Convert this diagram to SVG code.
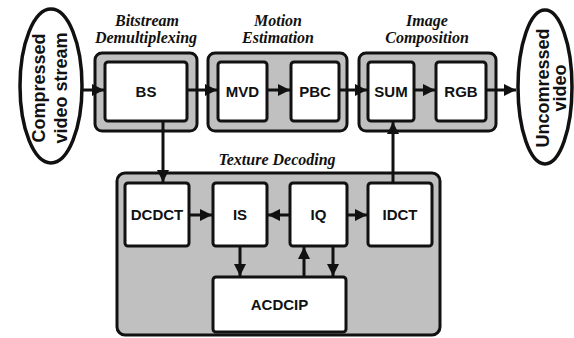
<svg xmlns="http://www.w3.org/2000/svg" width="574" height="338" viewBox="0 0 574 338">
<defs>
<style>
.cont{fill:#c0c0c0;stroke:#111;stroke-width:3}
.box{fill:#fff;stroke:#111;stroke-width:3}
.lbl{font-family:"Liberation Sans",Arial,sans-serif;font-weight:bold;font-size:15px;fill:#111;text-anchor:middle}
.ttl{font-family:"Liberation Serif","Times New Roman",serif;font-weight:bold;font-style:italic;font-size:16px;fill:#111;text-anchor:middle}
.ell{fill:#fff;stroke:#111;stroke-width:3.5}
.etx{font-family:"Liberation Sans",Arial,sans-serif;font-weight:bold;font-size:18px;fill:#111;text-anchor:middle}
.ln{stroke:#111;stroke-width:3;fill:none}
</style>
<marker id="ah" viewBox="0 0 10 10" refX="10" refY="5" markerWidth="4.3" markerHeight="4" markerUnits="strokeWidth" orient="auto">
<path d="M0,0 L10,5 L0,10 Z" fill="#111"/>
</marker>
</defs>
<rect width="574" height="338" fill="#fff"/>

<g id="src">
<ellipse class="ell" cx="51" cy="86" rx="31" ry="77"/>
<text class="etx" transform="translate(45,88) rotate(-90)">Compressed</text>
<text class="etx" transform="translate(67,88) rotate(-90)">video stream</text>
</g>
<g id="dst">
<ellipse class="ell" cx="545" cy="87" rx="27" ry="77"/>
<text class="etx" transform="translate(549,88) rotate(-90)">Uncomressed</text>
<text class="etx" transform="translate(566,88) rotate(-90)">video</text>
</g>

<g id="bitstream">
<text class="ttl" x="147" y="26">Bitstream</text>
<text class="ttl" x="146" y="43">Demultiplexing</text>
<rect class="cont" x="95" y="53" width="102" height="78" rx="7"/>
</g>
<g id="motion">
<text class="ttl" x="278" y="26">Motion</text>
<text class="ttl" x="278" y="43">Estimation</text>
<rect class="cont" x="208" y="53" width="139" height="78" rx="7"/>
</g>
<g id="image">
<text class="ttl" x="427" y="26">Image</text>
<text class="ttl" x="427" y="43">Composition</text>
<rect class="cont" x="359" y="53" width="137" height="78" rx="7"/>
</g>
<g id="texture">
<text class="ttl" x="277" y="165">Texture Decoding</text>
<rect class="cont" x="117" y="173" width="323" height="162" rx="8"/>
</g>

<g id="BS"><rect class="box" x="105" y="62" width="82" height="59" rx="3"/><text class="lbl" x="146" y="97">BS</text></g>
<g id="MVD"><rect class="box" x="218" y="62" width="49" height="59" rx="3"/><text class="lbl" x="242.5" y="97">MVD</text></g>
<g id="PBC"><rect class="box" x="291" y="62" width="48" height="59" rx="3"/><text class="lbl" x="315" y="97">PBC</text></g>
<g id="SUM"><rect class="box" x="368" y="62" width="46" height="59" rx="3"/><text class="lbl" x="391" y="97">SUM</text></g>
<g id="RGB"><rect class="box" x="436" y="62" width="50" height="59" rx="3"/><text class="lbl" x="461" y="97">RGB</text></g>

<g id="DCDCT"><rect class="box" x="125" y="183" width="64" height="63" rx="3"/><text class="lbl" x="157" y="220">DCDCT</text></g>
<g id="IS"><rect class="box" x="213" y="183" width="54" height="63" rx="3"/><text class="lbl" x="240" y="220">IS</text></g>
<g id="IQ"><rect class="box" x="290" y="183" width="57" height="63" rx="3"/><text class="lbl" x="318.5" y="220">IQ</text></g>
<g id="IDCT"><rect class="box" x="368" y="183" width="64" height="63" rx="3"/><text class="lbl" x="400" y="220">IDCT</text></g>
<g id="ACDCIP"><rect class="box" x="213" y="277" width="133" height="55" rx="3"/><text class="lbl" x="279.5" y="310">ACDCIP</text></g>

<g id="connectors">
<line class="ln" x1="83" y1="90" x2="104" y2="90" marker-end="url(#ah)"/>
<line class="ln" x1="187" y1="90" x2="217" y2="90" marker-end="url(#ah)"/>
<line class="ln" x1="267" y1="90" x2="290" y2="90" marker-end="url(#ah)"/>
<line class="ln" x1="339" y1="90" x2="367" y2="90" marker-end="url(#ah)"/>
<line class="ln" x1="414" y1="90" x2="435" y2="90" marker-end="url(#ah)"/>
<line class="ln" x1="486" y1="90" x2="516" y2="90" marker-end="url(#ah)"/>
<line class="ln" x1="163" y1="121" x2="163" y2="182" marker-end="url(#ah)"/>
<line class="ln" x1="393" y1="183" x2="393" y2="122" marker-end="url(#ah)"/>
<line class="ln" x1="189" y1="215" x2="212" y2="215" marker-end="url(#ah)"/>
<line class="ln" x1="290" y1="215" x2="268" y2="215" marker-end="url(#ah)"/>
<line class="ln" x1="347" y1="215" x2="367" y2="215" marker-end="url(#ah)"/>
<line class="ln" x1="240" y1="246" x2="240" y2="276" marker-end="url(#ah)"/>
<line class="ln" x1="304" y1="277" x2="304" y2="247" marker-end="url(#ah)"/>
<line class="ln" x1="333" y1="246" x2="333" y2="276" marker-end="url(#ah)"/>
</g>
</svg>
